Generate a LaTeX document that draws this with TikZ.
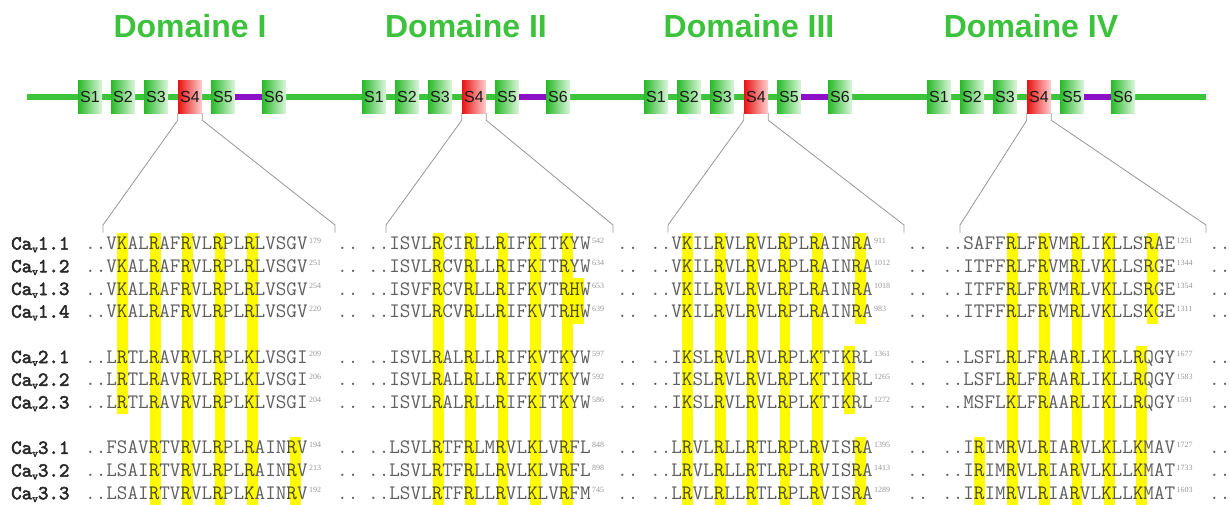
\documentclass[tikz,border=0pt]{standalone}
\usepackage{fontspec}
\setmainfont{Liberation Sans}
\newfontfamily\numfont{Liberation Serif}
\newfontfamily\labfont{lmmono10-regular.otf}[FakeBold=2.5]

\definecolor{titlegreen}{RGB}{61,194,61}
\definecolor{linegreen}{RGB}{60,196,60}
\definecolor{linkpurple}{RGB}{140,16,200}
\definecolor{segG1}{RGB}{40,185,40}
\definecolor{segG2}{RGB}{220,246,220}
\definecolor{segR1}{RGB}{232,18,18}
\definecolor{segR2}{RGB}{255,208,208}
\definecolor{hlbar}{RGB}{255,250,0}
\definecolor{seqgray}{RGB}{95,95,95}
\definecolor{hlfg}{RGB}{75,75,15}
\definecolor{supgray}{RGB}{150,150,150}
\definecolor{labgray}{RGB}{40,40,40}
\definecolor{conngray}{RGB}{150,150,150}

% highlighted residue
\newcommand\hl[1]{\textcolor{hlfg}{#1}}
% subscript v of the channel names
\newcommand\lsub[1]{\raisebox{-2.8pt}{\fontsize{11}{11}\selectfont #1}}
% one sequence block: name, x start, row y, residues, last position, x of the closing dots
\newcommand\blk[6]{%
  \node[seqtxt] (#1) at (#2,#3+5.6) {#4};
  \node[suptxt] (#1-n) at ([xshift=1pt,yshift=6.5pt]#1.base east) {#5};
  \node[seqtxt] (#1-e) at (#6,#3+5.6) {..};
}

\begin{document}
\begin{tikzpicture}[x=1pt,y=-1pt,
  title/.style={font=\bfseries\fontsize{32}{32}\selectfont, text=titlegreen, anchor=base, inner sep=0pt},
  seg/.style={minimum width=24pt, minimum height=33pt, inner sep=0pt,
    font=\fontsize{16}{16}\selectfont, text=black!90},
  gseg/.style={seg, left color=segG1, right color=segG2},
  rseg/.style={seg, left color=segR1, right color=segR2},
  backbone/.style={line width=6pt, draw=linegreen},
  linker/.style={line width=6pt, draw=linkpurple},
  conn/.style={draw=conngray, line width=0.8pt},
  seqtxt/.style={anchor=base west, inner sep=0pt, font=\ttfamily\fontsize{20.57}{20.57}\selectfont, text=seqgray},
  suptxt/.style={anchor=base west, inner sep=0pt, font=\numfont\fontsize{8}{8}\selectfont, text=supgray},
  labtxt/.style={anchor=base west, inner sep=0pt, font=\labfont\fontsize{20}{20}\selectfont, text=labgray},
  hlcol/.style={fill=hlbar}]
\useasboundingbox (0,0) rectangle (1229,504);

% domain titles
\node[title] (t1) at (190,37) {Domaine I};
\node[title] (t2) at (466,37) {Domaine II};
\node[title] (t3) at (749,37) {Domaine III};
\node[title] (t4) at (1031,37) {Domaine IV};

% backbone of the channel
\coordinate (bbL) at (27,96.5);
\coordinate (bbR) at (1206,96.5);
\draw[backbone] (bbL) -- (bbR);

% transmembrane segments
\foreach \d/\bx in {1/78,2/362,3/644,4/927} {
  \node[gseg] (d\d-s1) at (\bx+12,96.5) {S1};
  \node[gseg] (d\d-s2) at (\bx+45,96.5) {S2};
  \node[gseg] (d\d-s3) at (\bx+78,96.5) {S3};
  \node[rseg] (d\d-s4) at (\bx+112,96.5) {S4};
  \node[gseg] (d\d-s5) at (\bx+145,96.5) {S5};
  \node[gseg] (d\d-s6) at (\bx+196,96.5) {S6};
  \draw[linker] (d\d-s5.east) -- (d\d-s6.west);
}

% zoom lines from S4 to the aligned sequences
\foreach \d/\l/\r in {1/103/335,2/386/613,3/668/904,4/960/1206} {
  \coordinate (d\d-La) at (\l,225);
  \coordinate (d\d-Lb) at (\l,232.5);
  \coordinate (d\d-Ra) at (\r,225);
  \coordinate (d\d-Rb) at (\r,232.5);
  \draw[conn] (d\d-s4.south west) -- ++(0,7) -- (d\d-La) -- (d\d-Lb);
  \draw[conn] (d\d-s4.south east) -- ++(0,7) -- (d\d-Ra) -- (d\d-Rb);
}

% conserved positive charges (columns of the alignment)
\foreach \bx/\c/\a/\b in {
  85/3/0/7, 85/6/0/11, 85/9/0/11, 85/12/0/11, 85/15/0/11, 85/19/9/11,
  368/6/0/11, 368/9/0/11, 368/12/0/11, 368/15/0/11, 368/18/0/11, 368/19/2/3,
  650/3/0/11, 650/6/0/11, 650/9/0/11, 650/12/0/11, 650/15/0/11, 650/19/0/3, 650/18/5/7, 650/19/9/11,
  942/6/0/11, 942/9/0/11, 942/12/0/11, 942/15/0/11, 942/19/0/3, 942/18/5/11, 942/3/9/11} {
  \fill[hlcol] ({\bx+\c*10.8},{244+22.7*\a-11.5}) rectangle ({\bx+(\c+1)*10.8},{244+22.7*\b+11.5});
}

% channel names
\node[labtxt] (n11) at (11,249.6) {Ca\lsub{v}1.1};
\node[labtxt] (n12) at (11,272.3) {Ca\lsub{v}1.2};
\node[labtxt] (n13) at (11,295.0) {Ca\lsub{v}1.3};
\node[labtxt] (n14) at (11,317.7) {Ca\lsub{v}1.4};
\node[labtxt] (n21) at (11,363.1) {Ca\lsub{v}2.1};
\node[labtxt] (n22) at (11,385.8) {Ca\lsub{v}2.2};
\node[labtxt] (n23) at (11,408.5) {Ca\lsub{v}2.3};
\node[labtxt] (n31) at (11,453.9) {Ca\lsub{v}3.1};
\node[labtxt] (n32) at (11,476.6) {Ca\lsub{v}3.2};
\node[labtxt] (n33) at (11,499.3) {Ca\lsub{v}3.3};

% Cav1.1
\blk{a11}{85}{244}{..V\hl{K}AL\hl{R}AF\hl{R}VL\hl{R}PL\hl{R}LVSGV}{179}{337}
\blk{b11}{368}{244}{..ISVL\hl{R}CI\hl{R}LL\hl{R}IF\hl{K}IT\hl{K}YW}{542}{617}
\blk{c11}{650}{244}{..V\hl{K}IL\hl{R}VL\hl{R}VL\hl{R}PL\hl{R}AIN\hl{R}A}{911}{907}
\blk{d11}{942}{244}{..SAFF\hl{R}LF\hl{R}VM\hl{R}LI\hl{K}LLS\hl{R}AE}{1251}{1209}
% Cav1.2
\blk{a12}{85}{266.7}{..V\hl{K}AL\hl{R}AF\hl{R}VL\hl{R}PL\hl{R}LVSGV}{251}{337}
\blk{b12}{368}{266.7}{..ISVL\hl{R}CV\hl{R}LL\hl{R}IF\hl{K}IT\hl{R}YW}{634}{617}
\blk{c12}{650}{266.7}{..V\hl{K}IL\hl{R}VL\hl{R}VL\hl{R}PL\hl{R}AIN\hl{R}A}{1012}{907}
\blk{d12}{942}{266.7}{..ITFF\hl{R}LF\hl{R}VM\hl{R}LV\hl{K}LLS\hl{R}GE}{1344}{1209}
% Cav1.3
\blk{a13}{85}{289.4}{..V\hl{K}AL\hl{R}AF\hl{R}VL\hl{R}PL\hl{R}LVSGV}{254}{337}
\blk{b13}{368}{289.4}{..ISVF\hl{R}CV\hl{R}LL\hl{R}IF\hl{K}VT\hl{R}\hl{H}W}{653}{617}
\blk{c13}{650}{289.4}{..V\hl{K}IL\hl{R}VL\hl{R}VL\hl{R}PL\hl{R}AIN\hl{R}A}{1018}{907}
\blk{d13}{942}{289.4}{..ITFF\hl{R}LF\hl{R}VM\hl{R}LV\hl{K}LLS\hl{R}GE}{1354}{1209}
% Cav1.4
\blk{a14}{85}{312.1}{..V\hl{K}AL\hl{R}AF\hl{R}VL\hl{R}PL\hl{R}LVSGV}{220}{337}
\blk{b14}{368}{312.1}{..ISVL\hl{R}CV\hl{R}LL\hl{R}IF\hl{K}VT\hl{R}\hl{H}W}{639}{617}
\blk{c14}{650}{312.1}{..V\hl{K}IL\hl{R}VL\hl{R}VL\hl{R}PL\hl{R}AIN\hl{R}A}{983}{907}
\blk{d14}{942}{312.1}{..ITFF\hl{R}LF\hl{R}VM\hl{R}LV\hl{K}LLS\hl{K}GE}{1311}{1209}
% Cav2.1
\blk{a21}{85}{357.5}{..L\hl{R}TL\hl{R}AV\hl{R}VL\hl{R}PL\hl{K}LVSGI}{209}{337}
\blk{b21}{368}{357.5}{..ISVL\hl{R}AL\hl{R}LL\hl{R}IF\hl{K}VT\hl{K}YW}{597}{617}
\blk{c21}{650}{357.5}{..I\hl{K}SL\hl{R}VL\hl{R}VL\hl{R}PL\hl{K}TI\hl{K}RL}{1361}{907}
\blk{d21}{942}{357.5}{..LSFL\hl{R}LF\hl{R}AA\hl{R}LI\hl{K}LL\hl{R}QGY}{1677}{1209}
% Cav2.2
\blk{a22}{85}{380.2}{..L\hl{R}TL\hl{R}AV\hl{R}VL\hl{R}PL\hl{K}LVSGI}{206}{337}
\blk{b22}{368}{380.2}{..ISVL\hl{R}AL\hl{R}LL\hl{R}IF\hl{K}VT\hl{K}YW}{592}{617}
\blk{c22}{650}{380.2}{..I\hl{K}SL\hl{R}VL\hl{R}VL\hl{R}PL\hl{K}TI\hl{K}RL}{1265}{907}
\blk{d22}{942}{380.2}{..LSFL\hl{R}LF\hl{R}AA\hl{R}LI\hl{K}LL\hl{R}QGY}{1583}{1209}
% Cav2.3
\blk{a23}{85}{402.9}{..L\hl{R}TL\hl{R}AV\hl{R}VL\hl{R}PL\hl{K}LVSGI}{204}{337}
\blk{b23}{368}{402.9}{..ISVL\hl{R}AL\hl{R}LL\hl{R}IF\hl{K}IT\hl{K}YW}{586}{617}
\blk{c23}{650}{402.9}{..I\hl{K}SL\hl{R}VL\hl{R}VL\hl{R}PL\hl{K}TI\hl{K}RL}{1272}{907}
\blk{d23}{942}{402.9}{..MSFL\hl{K}LF\hl{R}AA\hl{R}LI\hl{K}LL\hl{R}QGY}{1591}{1209}
% Cav3.1
\blk{a31}{85}{448.3}{..FSAV\hl{R}TV\hl{R}VL\hl{R}PL\hl{R}AIN\hl{R}V}{194}{337}
\blk{b31}{368}{448.3}{..LSVL\hl{R}TF\hl{R}LM\hl{R}VL\hl{K}LV\hl{R}FL}{848}{617}
\blk{c31}{650}{448.3}{..L\hl{R}VL\hl{R}LL\hl{R}TL\hl{R}PL\hl{R}VIS\hl{R}A}{1395}{907}
\blk{d31}{942}{448.3}{..I\hl{R}IM\hl{R}VL\hl{R}IA\hl{R}VL\hl{K}LL\hl{K}MAV}{1727}{1209}
% Cav3.2
\blk{a32}{85}{471}{..LSAI\hl{R}TV\hl{R}VL\hl{R}PL\hl{R}AIN\hl{R}V}{213}{337}
\blk{b32}{368}{471}{..LSVL\hl{R}TF\hl{R}LL\hl{R}VL\hl{K}LV\hl{R}FL}{898}{617}
\blk{c32}{650}{471}{..L\hl{R}VL\hl{R}LL\hl{R}TL\hl{R}PL\hl{R}VIS\hl{R}A}{1413}{907}
\blk{d32}{942}{471}{..I\hl{R}IM\hl{R}VL\hl{R}IA\hl{R}VL\hl{K}LL\hl{K}MAT}{1733}{1209}
% Cav3.3
\blk{a33}{85}{493.7}{..LSAI\hl{R}TV\hl{R}VL\hl{R}PL\hl{K}AIN\hl{R}V}{192}{337}
\blk{b33}{368}{493.7}{..LSVL\hl{R}TF\hl{R}LL\hl{R}VL\hl{K}LV\hl{R}FM}{745}{617}
\blk{c33}{650}{493.7}{..L\hl{R}VL\hl{R}LL\hl{R}TL\hl{R}PL\hl{R}VIS\hl{R}A}{1289}{907}
\blk{d33}{942}{493.7}{..I\hl{R}IM\hl{R}VL\hl{R}IA\hl{R}VL\hl{K}LL\hl{K}MAT}{1603}{1209}
\end{tikzpicture}
\end{document}
